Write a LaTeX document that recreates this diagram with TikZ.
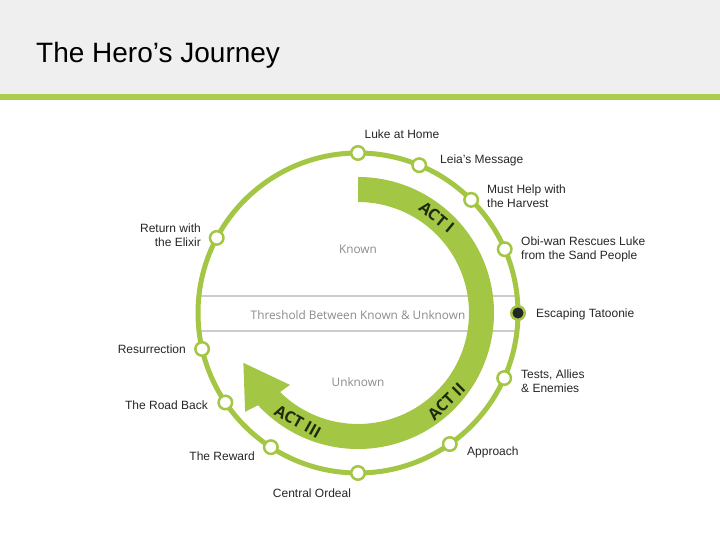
\documentclass[tikz,border=0pt]{standalone}
\usepackage{fontspec}
\setmainfont{Liberation Sans}
\newfontfamily\zonefont{Open Sans}
\usetikzlibrary{positioning,calc}
\definecolor{herogreen}{HTML}{A3C644}
\definecolor{bargreen}{HTML}{AACD50}
\definecolor{headgray}{HTML}{EFEFEF}
\definecolor{zonegray}{HTML}{8A8A8A}
\definecolor{linegray}{HTML}{CCCCCC}
\definecolor{actdark}{HTML}{1E2A10}
\tikzset{
  ring/.style  = {draw=herogreen, line width=5pt},
  sdot/.style  = {circle, draw=herogreen, fill=white, line width=2.5pt,
                  inner sep=0pt, minimum size=13.5pt},
  ddot/.style  = {sdot, fill=black!85},
  lbl/.style   = {font=\fontsize{12}{14}\selectfont, inner sep=0pt, text=black!85},
  lblr/.style  = {lbl, align=right, anchor=east},
  lbll/.style  = {lbl, align=left, anchor=west},
  zone/.style  = {font=\zonefont\fontsize{11.8}{14}\selectfont, text=zonegray,
                  inner sep=0pt},
  act/.style   = {font=\zonefont\bfseries\fontsize{16}{18}\selectfont,
                  text=actdark, inner sep=0pt},
  thresh/.style= {draw=linegray, line width=1.2pt},
}

\begin{document}
\begin{tikzpicture}[x=1pt,y=1pt]
  \useasboundingbox (0,0) rectangle (720,540);
  % header
  \fill[headgray] (0,446) rectangle (720,540);
  \fill[bargreen] (0,440) rectangle (720,446);
  \node[font=\fontsize{28}{32}\selectfont, anchor=base west, inner sep=0pt]
    (title) at (36,477) {The Hero’s Journey};

  \coordinate (c) at (358,227);
  % threshold band
  \coordinate (tl1) at ($(c)+(-159,17)$);
  \coordinate (tr1) at ($(c)+(159,17)$);
  \coordinate (tl2) at ($(c)+(-159,-18)$);
  \coordinate (tr2) at ($(c)+(159,-18)$);
  \draw[thresh] (tl1) -- (tr1);
  \draw[thresh] (tl2) -- (tr2);

  % acts arrow
  \fill[herogreen] ($(c)+(90:136)$) arc[start angle=90, end angle=-137.3, radius=136]
    -- ($(c)+(-138.8:150)$) -- ($(c)+(-156.5:125)$) -- ($(c)+(-133.4:99)$)
    -- ($(c)+(-134.6:111)$) arc[start angle=-134.6, end angle=90, radius=111] -- cycle;
  \node[act, rotate=-39.5] (act1) at ($(c)+(50.5:124)$) {ACT I};
  \node[act, rotate=45]    (act2) at ($(c)+(-45:125)$) {ACT II};
  \node[act, rotate=-29]   (act3) at ($(c)+(-119:124)$) {ACT III};

  \node[zone] (known)   at (358,291) {Known};
  \node[zone] (thr)     at (358,225) {Threshold Between Known \& Unknown};
  \node[zone] (unknown) at (358,158) {Unknown};

  % journey ring
  \draw[ring] (c) circle[radius=160];
  \node[sdot] (home)   at ($(c)+(90:160)$) {};
  \node[sdot] (msg)    at ($(c)+(67.5:160)$) {};
  \node[sdot] (harv)   at ($(c)+(45:160)$) {};
  \node[sdot] (rescue) at ($(c)+(23.5:160)$) {};
  \node[ddot] (escape) at ($(c)+(0:160)$) {};
  \node[sdot] (tests)  at ($(c)+(-24:160)$) {};
  \node[sdot] (appr)   at ($(c)+(-55:160)$) {};
  \node[sdot] (ordeal) at ($(c)+(-90:160)$) {};
  \node[sdot] (reward) at ($(c)+(-123:160)$) {};
  \node[sdot] (road)   at ($(c)+(-146:160)$) {};
  \node[sdot] (resur)  at ($(c)+(-167:160)$) {};
  \node[sdot] (elixir) at ($(c)+(152:160)$) {};

  % stage names
  \node[lbl]  (homet)   at (402,406) {Luke at Home};
  \node[lbll] (msgt)    at (440,380) {Leia's Message};
  \node[lbll] (harvt)   at (487,344) {Must Help with\\the Harvest};
  \node[lbll] (rescuet) at (521,291) {Obi-wan Rescues Luke\\from the Sand People};
  \node[lbll] (escapet) at (536,226) {Escaping Tatoonie};
  \node[lbll] (testst)  at (521,159) {Tests, Allies\\\& Enemies};
  \node[lbll] (apprt)   at (467,88)  {Approach};
  \node[lbl]  (ordealt) at (312,47)  {Central Ordeal};
  \node[lblr] (rewardt) at (255,84)  {The Reward};
  \node[lblr] (roadt)   at (208,135) {The Road Back};
  \node[lblr] (resurt)  at (186,191) {Resurrection};
  \node[lblr] (elixirt) at (201,305) {Return with\\the Elixir};
\end{tikzpicture}
\end{document}
